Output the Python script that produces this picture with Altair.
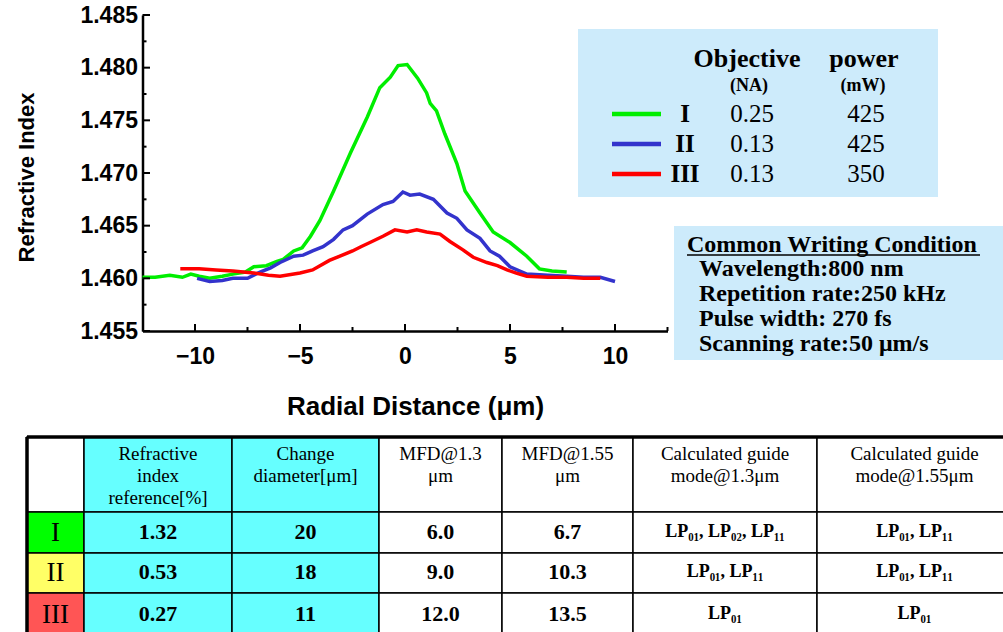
import altair as alt
import pandas as pd

# ---------------- data ----------------
green_x = [-12.5, -11.9, -11.2, -10.6, -10.2, -9.8, -9.3, -8.7, -8.2, -7.6, -7.2, -6.6, -6.1, -5.8, -5.3,
           -4.9, -4.5, -4.05, -3.4, -2.6, -1.8, -1.2, -0.7, -0.33, 0.1, 0.6, 1.03, 1.2, 1.5, 1.9, 2.47,
           2.86, 3.57, 4.2, 5.0, 5.8, 6.4, 7.0, 7.7]
green_y = [1.4601, 1.4601, 1.4603, 1.4601, 1.4604, 1.4602, 1.4600, 1.4602, 1.4604, 1.4606, 1.4611, 1.4612,
           1.4616, 1.4618, 1.4626, 1.4629, 1.4640, 1.4655, 1.4683, 1.4719, 1.4753, 1.4781, 1.4791, 1.4802,
           1.4803, 1.4790, 1.4776, 1.4766, 1.4759, 1.4737, 1.4709, 1.4683, 1.4662, 1.4644, 1.4634, 1.4621,
           1.4609, 1.4607, 1.4606]

blue_x = [-9.9, -9.3, -8.7, -8.2, -7.5, -6.9, -6.4, -5.95, -5.3, -4.85, -4.4, -3.9, -3.4, -2.95, -2.5,
          -1.8, -1.05, -0.57, -0.1, 0.24, 0.7, 1.35, 2.0, 2.47, 2.95, 3.57, 4.05, 4.5, 5.0, 5.8, 6.8, 7.7,
          8.5, 9.3, 10.0]
blue_y = [1.4600, 1.4597, 1.4598, 1.4600, 1.4600, 1.4606, 1.4610, 1.4615, 1.4621, 1.4622, 1.4626, 1.4630,
          1.4637, 1.4646, 1.4650, 1.4661, 1.4670, 1.4673, 1.4682, 1.4679, 1.4680, 1.4675, 1.4662, 1.4657,
          1.4646, 1.4638, 1.4626, 1.4621, 1.4611, 1.4604, 1.4603, 1.4602, 1.4601, 1.4601, 1.4597]

red_x = [-10.7, -9.8, -9.0, -8.2, -7.2, -6.5, -5.95, -5.0, -4.4, -3.6, -3.1, -2.5, -2.1, -1.67, -1.05,
         -0.48, 0.1, 0.56, 1.03, 1.67, 2.14, 2.76, 3.25, 3.9, 4.4, 4.86, 5.3, 5.8, 6.8, 7.7, 8.5, 9.3]
red_y = [1.4609, 1.4609, 1.4608, 1.4607, 1.4605, 1.4603, 1.4602, 1.4605, 1.4608, 1.4617, 1.4621, 1.4626,
         1.4630, 1.4634, 1.4640, 1.4646, 1.4644, 1.4646, 1.4644, 1.4642, 1.4635, 1.4627, 1.4620, 1.4615,
         1.4612, 1.4608, 1.4605, 1.4602, 1.4601, 1.4601, 1.4600, 1.4600]

series_names = ["I", "II", "III"]
na_values = ["0.25", "0.13", "0.13"]
power_values = ["425", "425", "350"]
legend_headers = ["Objective", "power"]
legend_units = ["(NA)", "(mW)"]

conditions_title = "Common Writing Condition"
conditions = ["Wavelength:800 nm", "Repetition rate:250 kHz", "Pulse width: 270 fs", "Scanning rate:50 μm/s"]

table_headers = ["", "Refractive\nindex\nreference[%]", "Change\ndiameter[μm]", "MFD@1.3\nμm",
                 "MFD@1.55\nμm", "Calculated guide\nmode@1.3μm", "Calculated guide\nmode@1.55μm"]
row_labels = ["I", "II", "III"]
index_ref = ["1.32", "0.53", "0.27"]
change_diam = ["20", "18", "11"]
mfd13 = ["6.0", "9.0", "12.0"]
mfd155 = ["6.7", "10.3", "13.5"]
mode13 = ["LP₀₁, LP₀₂, LP₁₁", "LP₀₁, LP₁₁", "LP₀₁"]
mode155 = ["LP₀₁, LP₁₁", "LP₀₁, LP₁₁", "LP₀₁"]

x_major = [-10, -5, 0, 5, 10]
x_minor = [-7.5, -2.5, 2.5, 7.5, 12.5]
y_major = [1.455, 1.460, 1.465, 1.470, 1.475, 1.480, 1.485]
y_minor = [1.4575, 1.4625, 1.4675, 1.4725, 1.4775, 1.4825]

# ---------------- styles / layout ----------------
line_colors = ["#00ee00", "#3333cc", "#ff0000"]
row_fills = ["#00ff00", "#ffff66", "#ff5555"]
cyan = "#66ffff"
box_blue = "#cdebfb"
SANS = "Liberation Sans"
SERIF = "Liberation Serif"

OX, OY = 142.5, 15.0       # plot origin on the canvas
W, H = 525, 316
CW, CH = 1003, 632

col_edges = [27, 84, 232, 379, 502, 633, 817, 1012]
row_edges = [437, 512, 553, 593, 636]


def cx(v):
    return v - OX


def cy(v):
    return v - OY


# ---------------- line chart ----------------
rows = []
for name, xs, ys in zip(series_names, [green_x, blue_x, red_x], [green_y, blue_y, red_y]):
    for a, b in zip(xs, ys):
        rows.append({"x": a, "y": b, "series": name})
df_lines = pd.DataFrame(rows)

xscale = alt.Scale(domain=[-12.5, 12.5], nice=False, zero=False)
yscale = alt.Scale(domain=[1.455, 1.485], nice=False, zero=False)

lines = alt.Chart(df_lines).mark_line(strokeWidth=3.5, interpolate="linear").encode(
    x=alt.X("x:Q", scale=xscale, axis=alt.Axis(
        values=x_major, ticks=False, grid=False, domainColor="black", domainWidth=2.5,
        labelFont=SANS, labelFontWeight="bold", labelFontSize=23, labelColor="black",
        labelPadding=14, labelFlush=False,
        title="Radial Distance (μm)", titleFont=SANS, titleFontWeight="bold", titleFontSize=26,
        titleColor="black", titleX=cx(415), titleY=62, titleBaseline="top", titleAlign="center")),
    y=alt.Y("y:Q", scale=yscale, axis=alt.Axis(
        values=y_major, format=".3f", ticks=False, grid=False, domainColor="black", domainWidth=2.5,
        labelFont=SANS, labelFontWeight="bold", labelFontSize=23, labelColor="black",
        labelPadding=5, labelFlush=False,
        title="Refractive Index", titleFont=SANS, titleFontWeight="bold", titleFontSize=22,
        titleColor="black", titleX=cx(33), titleY=cy(177), titleBaseline="alphabetic",
        titleAlign="center", titleAngle=270)),
    color=alt.Color("series:N", scale=alt.Scale(domain=series_names, range=line_colors), legend=None),
    detail="series:N",
)

# inward tick marks
ytick_major = alt.Chart(pd.DataFrame({"y": y_major})).mark_rule(color="black", strokeWidth=2).encode(
    y="y:Q", x=alt.value(0), x2=alt.value(7.5))
ytick_minor = alt.Chart(pd.DataFrame({"y": y_minor})).mark_rule(color="black", strokeWidth=2).encode(
    y="y:Q", x=alt.value(0), x2=alt.value(4))
xtick_major = alt.Chart(pd.DataFrame({"x": x_major})).mark_rule(color="black", strokeWidth=2).encode(
    x="x:Q", y=alt.value(H), y2=alt.value(H - 7))
xtick_minor = alt.Chart(pd.DataFrame({"x": x_minor})).mark_rule(color="black", strokeWidth=2).encode(
    x="x:Q", y=alt.value(H), y2=alt.value(H - 4))

# ---------------- legend box ----------------
leg_rows_y = [114, 144, 174]
df_box = pd.DataFrame({
    "x0": [cx(578), cx(674)], "x1": [cx(938), cx(1012)],
    "y0": [cy(29), cy(226)], "y1": [cy(197), cy(360)]})
boxes = alt.Chart(df_box).mark_rect(fill=box_blue).encode(
    x=alt.X("x0:Q", scale=None), x2="x1:Q", y=alt.Y("y0:Q", scale=None), y2="y1:Q")

df_leg_lines = pd.DataFrame({
    "x0": [cx(612)] * 3, "x1": [cx(661)] * 3, "y": [cy(v) for v in leg_rows_y],
    "series": series_names})
leg_lines = alt.Chart(df_leg_lines).mark_rule(strokeWidth=4.5).encode(
    x=alt.X("x0:Q", scale=None), x2="x1:Q", y=alt.Y("y:Q", scale=None),
    color=alt.Color("series:N", scale=alt.Scale(domain=series_names, range=line_colors), legend=None))

df_leg_head = pd.DataFrame({"tx": [cx(747), cx(864)], "ty": [cy(67)] * 2, "label": legend_headers})
leg_head = alt.Chart(df_leg_head).mark_text(font=SERIF, fontWeight="bold", fontSize=26, align="center",
                                            baseline="alphabetic", color="black").encode(
    x=alt.X("tx:Q", scale=None), y=alt.Y("ty:Q", scale=None), text="label:N")
df_leg_unit = pd.DataFrame({"tx": [cx(749), cx(863)], "ty": [cy(91)] * 2, "label": legend_units})
leg_unit = alt.Chart(df_leg_unit).mark_text(font=SERIF, fontWeight="bold", fontSize=18, align="center",
                                            baseline="alphabetic", color="black").encode(
    x=alt.X("tx:Q", scale=None), y=alt.Y("ty:Q", scale=None), text="label:N")

leg_rom = alt.Chart(pd.DataFrame({"tx": [cx(685)] * 3, "ty": [cy(v) for v in leg_rows_y],
                                  "label": series_names})).mark_text(
    font=SERIF, fontWeight="bold", fontSize=25, align="center", baseline="middle", color="black").encode(
    x=alt.X("tx:Q", scale=None), y=alt.Y("ty:Q", scale=None), text="label:N")
leg_vals = alt.Chart(pd.DataFrame({"tx": [cx(752)] * 3 + [cx(866)] * 3,
                                   "ty": [cy(v) for v in leg_rows_y] * 2,
                                   "label": na_values + power_values})).mark_text(
    font=SERIF, fontSize=25, align="center", baseline="middle", color="black").encode(
    x=alt.X("tx:Q", scale=None), y=alt.Y("ty:Q", scale=None), text="label:N")

# ---------------- conditions box ----------------
cond_title = alt.Chart(pd.DataFrame({"tx": [cx(687)], "ty": [cy(252)], "label": [conditions_title]})).mark_text(
    font=SERIF, fontWeight="bold", fontSize=24, align="left", baseline="alphabetic", color="black").encode(
    x=alt.X("tx:Q", scale=None), y=alt.Y("ty:Q", scale=None), text="label:N")
cond_ul = alt.Chart(pd.DataFrame({"x0": [cx(687)], "x1": [cx(980)], "y": [cy(255)]})).mark_rule(
    color="black", strokeWidth=1.5).encode(
    x=alt.X("x0:Q", scale=None), x2="x1:Q", y=alt.Y("y:Q", scale=None))
cond_lines = alt.Chart(pd.DataFrame({"tx": [cx(699)] * 4, "ty": [cy(276 + 25 * i) for i in range(4)],
                                     "label": conditions})).mark_text(
    font=SERIF, fontWeight="bold", fontSize=24, align="left", baseline="alphabetic", color="black").encode(
    x=alt.X("tx:Q", scale=None), y=alt.Y("ty:Q", scale=None), text="label:N")

# ---------------- table ----------------
cells = []
for r in range(4):
    for c in range(7):
        if c in (1, 2):
            fill = cyan
        elif c == 0 and r > 0:
            fill = row_fills[r - 1]
        else:
            fill = "white"
        cells.append({"x0": cx(col_edges[c]), "x1": cx(col_edges[c + 1]),
                      "y0": cy(row_edges[r]), "y1": cy(row_edges[r + 1]), "fill": fill})
table_cells = alt.Chart(pd.DataFrame(cells)).mark_rect(stroke="black", strokeWidth=1.5).encode(
    x=alt.X("x0:Q", scale=None), x2="x1:Q", y=alt.Y("y0:Q", scale=None), y2="y1:Q",
    fill=alt.Fill("fill:N", scale=None))

borders = alt.Chart(pd.DataFrame({
    "x0": [cx(col_edges[0]), cx(col_edges[0])], "x1": [cx(col_edges[-1]), cx(col_edges[0])],
    "y0": [cy(row_edges[0]), cy(row_edges[0])], "y1": [cy(row_edges[0]), cy(row_edges[-1])]})).mark_rule(
    color="black", strokeWidth=3.5).encode(
    x=alt.X("x0:Q", scale=None), x2="x1:Q", y=alt.Y("y0:Q", scale=None), y2="y1:Q")

centers = [(col_edges[c] + col_edges[c + 1]) / 2 for c in range(7)]
head_df = pd.DataFrame({"tx": [cx(centers[c]) for c in range(1, 7)], "ty": [cy(460)] * 6,
                        "label": table_headers[1:]})
table_head = alt.Chart(head_df).mark_text(
    font=SERIF, fontSize=19, lineBreak="\n", lineHeight=22, align="center", baseline="alphabetic",
    color="black").encode(x=alt.X("tx:Q", scale=None), y=alt.Y("ty:Q", scale=None), text="label:N")

body_rows, lp_rows, lab_rows = [], [], []
for r in range(3):
    yc = cy((row_edges[r + 1] + row_edges[r + 2]) / 2 - 1)
    for c, vals in zip([1, 2, 3, 4], [index_ref, change_diam, mfd13, mfd155]):
        body_rows.append({"tx": cx(centers[c]), "ty": yc, "label": vals[r]})
    for c, vals in zip([5, 6], [mode13, mode155]):
        lp_rows.append({"tx": cx(centers[c]), "ty": yc, "label": vals[r]})
    lab_rows.append({"tx": cx(centers[0]), "ty": yc + 1, "label": row_labels[r]})

table_body = alt.Chart(pd.DataFrame(body_rows)).mark_text(
    font=SERIF, fontWeight="bold", fontSize=22, align="center", baseline="middle", color="black").encode(
    x=alt.X("tx:Q", scale=None), y=alt.Y("ty:Q", scale=None), text="label:N")
table_lp = alt.Chart(pd.DataFrame(lp_rows)).mark_text(
    font=SERIF, fontWeight="bold", fontSize=18, align="center", baseline="middle", color="black").encode(
    x=alt.X("tx:Q", scale=None), y=alt.Y("ty:Q", scale=None), text="label:N")
table_lab = alt.Chart(pd.DataFrame(lab_rows)).mark_text(
    font=SERIF, fontSize=27, align="center", baseline="middle", color="black").encode(
    x=alt.X("tx:Q", scale=None), y=alt.Y("ty:Q", scale=None), text="label:N")

chart = alt.layer(
    lines, ytick_major, ytick_minor, xtick_major, xtick_minor,
    boxes, leg_lines, leg_head, leg_unit, leg_rom, leg_vals,
    cond_title, cond_ul, cond_lines,
    table_cells, borders, table_head, table_body, table_lp, table_lab,
).properties(
    width=W, height=H,
    autosize=alt.AutoSizeParams(type="none"),
    padding={"left": OX, "top": OY, "right": CW - OX - W, "bottom": CH - OY - H},
    background="white",
).configure_view(stroke=None)

chart.save("out.html", embed_options={"renderer": "svg", "actions": False})
